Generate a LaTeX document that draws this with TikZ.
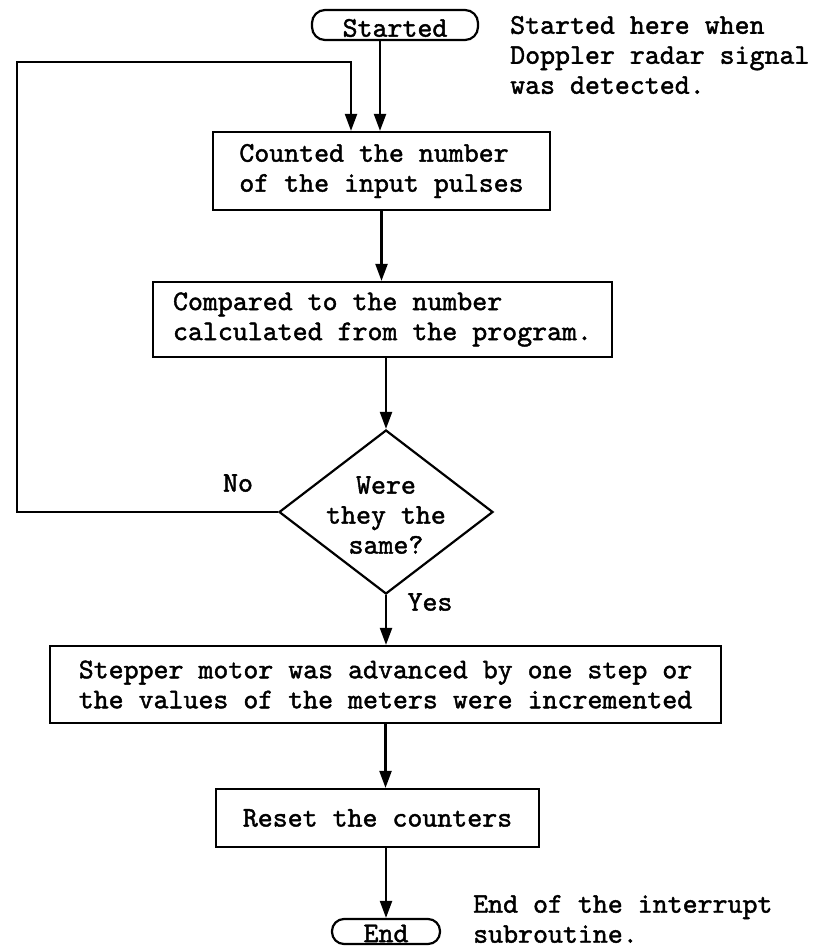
\documentclass[tikz,border=0pt]{standalone}
\usepackage{fontspec}
\newfontfamily\tyfont{lmmono10-regular.otf}[FakeBold=1.5]
\usetikzlibrary{arrows.meta,shapes.geometric}
\begin{document}
\begin{tikzpicture}[x=1bp,y=-1bp,
  every node/.style={font=\tyfont\fontsize{28.5bp}{30bp}\selectfont, inner sep=0pt},
  box/.style={draw, line width=2.2bp, align=left},
  term/.style={draw, line width=2.2bp, rounded corners=13bp},
  arr/.style={line width=2.2bp, -{Triangle[length=17bp,width=12bp]}},
  lbl/.style={align=left}]
\useasboundingbox (0,0) rectangle (818,948);
\fill[white] (0,0) rectangle (818,948);

\node[term, minimum width=166bp, minimum height=30bp] (start) at (395,25) {\raisebox{-3bp}[\height][\depth]{Started}};
\node[lbl, anchor=west] (startnote) at (510,55) {Started here when\\Doppler radar signal\\was detected.};

\node[box, minimum width=337bp, minimum height=78bp] (b1) at (381.5,171) {Counted the number\\of the input pulses};
\node[box, minimum width=459bp, minimum height=75bp] (b2) at (382.5,319.5) {Compared to the number\\calculated from the program.};
\node[draw, line width=2.2bp, diamond, minimum width=214bp, minimum height=164bp] (dia) at (386,512) {};
\node[align=center] (diatext) at (386,515) {Were\\they the\\same?};
\node (no) at (238,483) {No};
\node (yes) at (430,602) {Yes};
\node[box, minimum width=671bp, minimum height=77bp] (b3) at (385.5,684.5) {Stepper motor was advanced by one step or\\the values of the meters were incremented};
\node[box, minimum width=323bp, minimum height=58bp] (b4) at (377.5,818) {Reset the counters};
\node[term, minimum width=108bp, minimum height=25bp, rounded corners=12bp] (end) at (386,931.5) {\raisebox{-2bp}[\height][\depth]{End}};
\node[lbl, anchor=west] (endnote) at (473,919) {End of the interrupt\\subroutine.};

\coordinate (loopL) at (17,62);
\coordinate (loopR) at (351,62);

\draw[arr] ([xshift=-15bp]start.south) -- ([xshift=-15bp]start.south |- b1.north);
\draw[arr] (b1.south) -- (b1.south |- b2.north);
\draw[arr] (dia.north |- b2.south) -- (dia.north);
\draw[arr] (dia.south) -- (dia.south |- b3.north);
\draw[arr] (b3.south) -- (b3.south |- b4.north);
\draw[arr] (end.north |- b4.south) -- (end.north);
\draw[arr] (dia.west) -| (loopL) -- (loopR) -- (loopR |- b1.north);
\end{tikzpicture}
\end{document}
